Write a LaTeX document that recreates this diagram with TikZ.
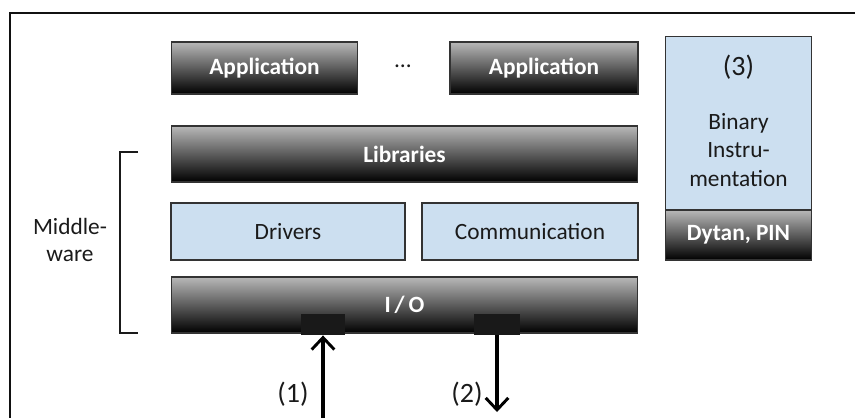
\documentclass[tikz,border=0pt]{standalone}
\usepackage{fontspec}
\setmainfont{Carlito}
\usetikzlibrary{arrows.meta,positioning}
\definecolor{inkDark}{HTML}{1A1A1A}
\definecolor{boxEdge}{HTML}{333333}
\definecolor{darkTop}{HTML}{B8B8B8}
\definecolor{paleBlue}{HTML}{CCDFF0}
\definecolor{frameInk}{HTML}{111111}

\begin{document}
\begin{tikzpicture}[
  x=0.75pt, y=-0.75pt,
  font=\fontsize{17.5}{20}\selectfont,
  box/.style={
    rectangle, draw=boxEdge, line width=0.9pt,
    align=center, inner sep=0pt},
  dark/.style={box, top color=darkTop, bottom color=black, text=white,
    font=\fontsize{17.5}{20}\selectfont\bfseries},
  layer/.style={box, fill=paleBlue, text=inkDark},
  tab/.style={rectangle, fill=black!90, inner sep=0pt},
  txt/.style={text=inkDark, inner sep=0pt, align=center},
  num/.style={txt, font=\fontsize{21}{24}\selectfont},
  flow/.style={-{Straight Barb[length=9pt,width=17pt,line width=2.2pt]},
    line width=2.5pt, draw=black},
]
\useasboundingbox (0,0) rectangle (855,417);

% =============================== frame =====================================
\draw[frameInk, line width=2.2pt] (860,13) -- (10,13) -- (10,425);

% =============================== nodes =====================================
\node[dark, minimum width=140pt, minimum height=39pt] at (264.5,68) (app1) {Application};
\node[txt]  at (403,66) (dots) {\ldots};
\node[dark, minimum width=141pt, minimum height=39pt] at (544,68)   (app2) {Application};

\node[dark, minimum width=350pt, minimum height=42pt] at (404.5,154) (libs) {Libraries};

\node[layer, minimum width=175.5pt, minimum height=42.75pt] at (288,231.5) (drv)  {Drivers};
\node[layer, minimum width=162pt,   minimum height=42.75pt] at (530,231.5) (comm) {Communication};

\node[dark, minimum width=350pt, minimum height=42pt] at (404.5,305) (io) {I\,/\,O};

% tabs on the bottom of I/O
\node[tab, minimum width=33pt,   minimum height=16pt] at (323,324.5) (inTab)  {};
\node[tab, minimum width=34.5pt, minimum height=16pt] at (497,324.5) (outTab) {};

% binary instrumentation column
\node[layer, minimum width=110pt, minimum height=130pt] at (738.5,123.5) (binInst) {};
\node[dark,  minimum width=110pt, minimum height=37.5pt] at (738.5,235)  (dytan)  {Dytan, PIN};
\node[num] at (738.5,67) (three) {(3)};
\node[txt, font=\fontsize{17.5}{21.5}\selectfont] at (738.5,150) (binTxt) {Binary\\Instru-\\mentation};

% middleware bracket
\coordinate (brTop) at (120,152);
\coordinate (brBot) at (120,333);
\draw[line width=1.8pt, draw=inkDark] ([xshift=13.5pt]brTop) -- (brTop) -- (brBot) -- ([xshift=13.5pt]brBot);
\node[txt, font=\fontsize{17.5}{20.25}\selectfont] at (70,239.5) (mware) {Middle-\\ware};

% =============================== flows =====================================
\coordinate (inSrc)  at (323,420);
\coordinate (outDst) at (497,412);
\draw[flow] (inSrc) -- (inTab.south);
\draw[flow] (outTab.south) -- (outDst);
\node[num] at (293,394) (lblIn)  {(1)};
\node[num] at (467,394) (lblOut) {(2)};

\end{tikzpicture}
\end{document}
